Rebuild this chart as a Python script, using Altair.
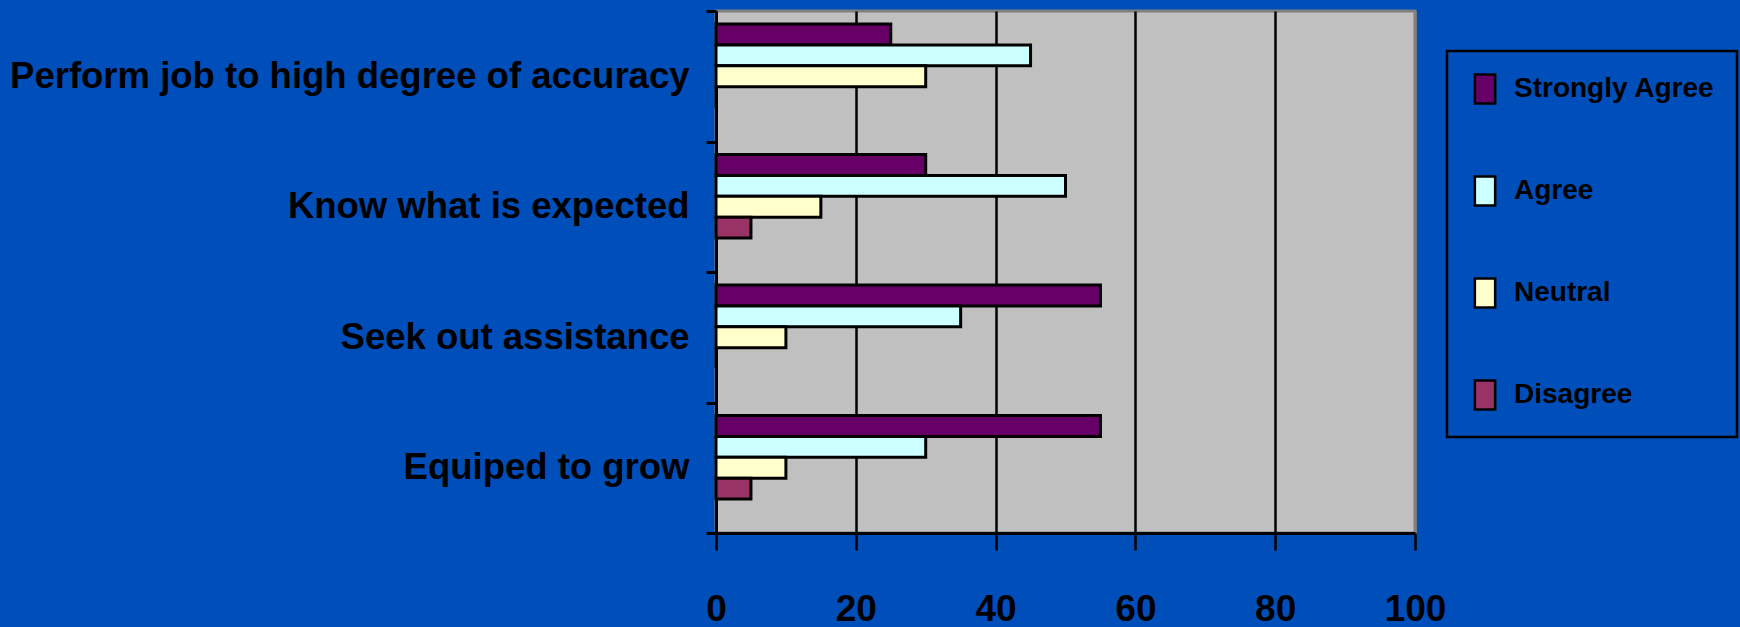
import altair as alt
import pandas as pd

categories = [
    "Perform job to high degree of accuracy",
    "Know what is expected",
    "Seek out assistance",
    "Equiped to grow",
]
series = ["Strongly Agree", "Agree", "Neutral", "Disagree"]
strongly_agree = [25, 30, 55, 55]
agree = [45, 50, 35, 30]
neutral = [30, 15, 10, 10]
disagree = [0, 5, 0, 5]
colors = ["#660066", "#CCFFFF", "#FFFFCC", "#993366"]
x_ticks = [0, 20, 40, 60, 80, 100]

rows = []
for s, vals in zip(series, [strongly_agree, agree, neutral, disagree]):
    for c, v in zip(categories, vals):
        rows.append({"cat": c, "series": s, "value": v})
df = pd.DataFrame(rows)

FONT = "Liberation Sans, Arial, sans-serif"
BLUE = "#004EBA"

bars = alt.Chart(df).mark_bar(stroke="black", strokeWidth=3).encode(
    x=alt.X(
        "value:Q",
        scale=alt.Scale(domain=[0, 100], nice=False),
        axis=alt.Axis(
            title=None,
            values=x_ticks,
            grid=True,
            gridColor={"condition": {"test": "datum.value === 100", "value": "#808080"}, "value": "black"},
            gridWidth=2.5,
            domainColor="black",
            domainWidth=3,
            tickColor="black",
            tickWidth=2.5,
            tickSize=17,
            labelFont=FONT,
            labelFontSize=37,
            labelFontWeight="bold",
            labelColor="black",
            labelPadding=41,
            labelFlush=False,
        ),
    ),
    y=alt.Y(
        "cat:N",
        sort=categories,
        scale=alt.Scale(paddingInner=0, paddingOuter=0),
        axis=alt.Axis(
            title=None,
            tickBand="extent",
            domainColor="black",
            domainWidth=3,
            tickColor="black",
            tickWidth=3,
            tickSize=10,
            labelFont=FONT,
            labelFontSize=36.5,
            labelFontWeight="bold",
            labelColor="black",
            labelPadding=17,
            labelLimit=1000,
        ),
    ),
    yOffset=alt.YOffset(
        "series:N",
        sort=series,
        scale=alt.Scale(domain=series + [" "], paddingInner=0, paddingOuter=0.62),
    ),
    color=alt.Color(
        "series:N",
        sort=series,
        scale=alt.Scale(domain=series, range=colors),
        legend=alt.Legend(
            title=None,
            orient="none",
            legendX=731,
            legendY=40,
            symbolType="M-0.7,-1H0.7V1H-0.7Z",
            symbolSize=841,
            symbolStrokeColor="black",
            symbolStrokeWidth=2.5,
            symbolOpacity=1,
            labelFont=FONT,
            labelFontSize=28,
            labelFontWeight="bold",
            labelColor="black",
            labelOffset=13,
            labelLimit=400,
            rowPadding=62,
            padding=22,
            strokeColor="black",
        ),
    ),
)

chart = bars.properties(
    width=699,
    height=522,
    background=BLUE,
    padding={"left": 716, "top": 11, "right": 325, "bottom": 94},
    autosize=alt.AutoSizeParams(type="none"),
).configure_view(
    fill="#C0C0C0",
    stroke="#808080",
    strokeWidth=3,
).configure_legend(
    strokeWidth=2.5,
)

chart.save("out.html", embed_options={"renderer": "svg", "actions": False})
